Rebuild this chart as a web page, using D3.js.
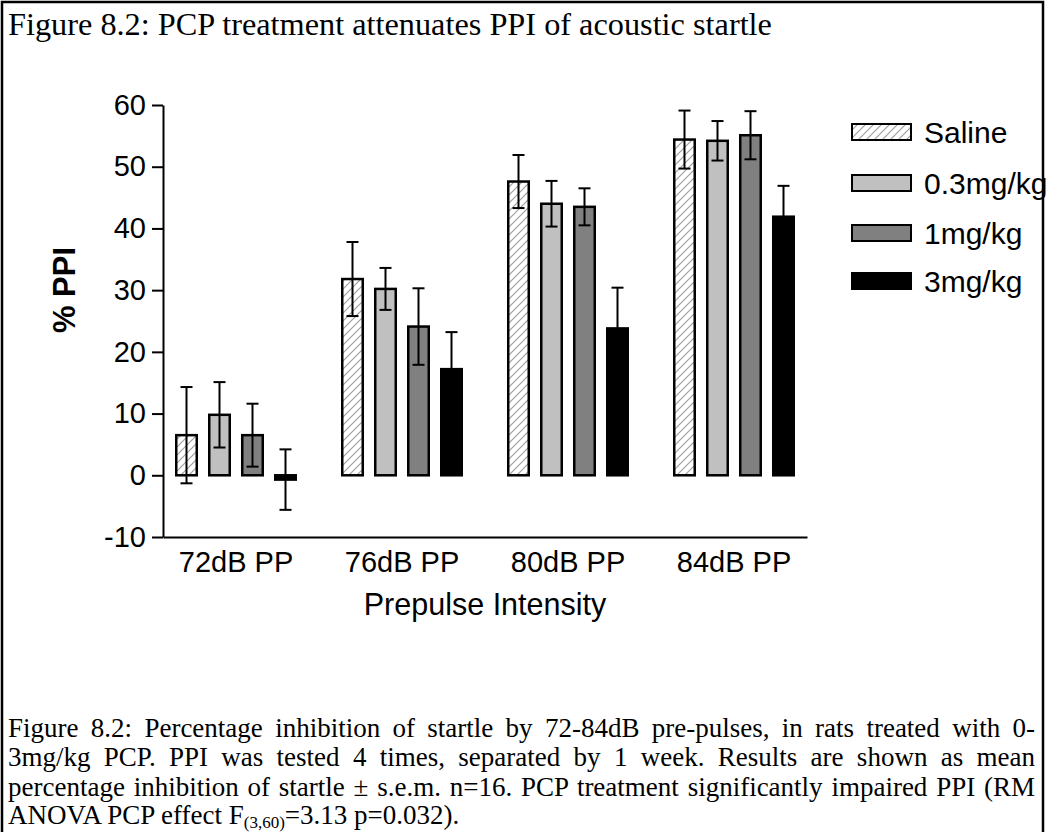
<!DOCTYPE html>
<html><head><meta charset="utf-8">
<script src="https://cdn.jsdelivr.net/npm/d3@7"></script>
<style>
html,body{margin:0;padding:0;background:#fff;}
svg{display:block;}
</style></head>
<body>
<svg id="chart" width="1060" height="832"></svg>
<script>
// ---- data ----
const groups = ["72dB PP", "76dB PP", "80dB PP", "84dB PP"];
const series = ["Saline", "0.3mg/kg", "1mg/kg", "3mg/kg"];
const salineMean = [6.5, 31.8, 47.6, 54.4];
const salineSem  = [7.8, 6.0, 4.3, 4.7];
const low03Mean  = [9.8, 30.2, 44.0, 54.2];
const low03Sem   = [5.3, 3.4, 3.7, 3.2];
const mid1Mean   = [6.5, 24.1, 43.5, 55.1];
const mid1Sem    = [5.1, 6.2, 3.0, 3.9];
const high3Mean  = [-0.7, 17.2, 23.8, 41.9];
const high3Sem   = [4.9, 6.0, 6.6, 5.0];
const yTicks = [-10, 0, 10, 20, 30, 40, 50, 60];
const titleText = "Figure 8.2: PCP treatment attenuates PPI of acoustic startle";
const yLabel = "% PPI";
const xLabel = "Prepulse Intensity";
const captionLines = [
  "Figure 8.2: Percentage inhibition of startle by 72-84dB pre-pulses, in rats treated with 0-",
  "3mg/kg PCP. PPI was tested 4 times, separated by 1 week. Results are shown as mean",
  "percentage inhibition of startle \u00b1 s.e.m. n=16. PCP treatment significantly impaired PPI (RM"
];

const means = [salineMean, low03Mean, mid1Mean, high3Mean];
const sems = [salineSem, low03Sem, mid1Sem, high3Sem];
const fills = ["url(#hatch)", "#c0c0c0", "#808080", "#000000"];

const svg = d3.select("#chart");
const defs = svg.append("defs");
const pat = defs.append("pattern").attr("id", "hatch")
  .attr("patternUnits", "userSpaceOnUse").attr("width", 8).attr("height", 8);
pat.append("rect").attr("width", 8).attr("height", 8).attr("fill", "#fff");
pat.append("path").attr("d", "M0,8 L8,0 M-2,2 L2,-2 M6,10 L10,6")
  .attr("stroke", "#a0a0a0").attr("stroke-width", 1.2);

// frame
svg.append("rect").attr("x", 2).attr("y", 2).attr("width", 1041).attr("height", 860)
  .attr("fill", "none").attr("stroke", "#000").attr("stroke-width", 2.5);

// title
svg.append("text").attr("x", 8).attr("y", 35)
  .attr("font-family", "Liberation Serif, Times New Roman, serif").attr("font-size", 32.3)
  .text(titleText);

// scales
const y = d3.scaleLinear().domain([-10, 60]).range([537, 105]);
const x0 = d3.scaleBand().domain(groups).range([163, 807]).paddingInner(0.2048).paddingOuter(0.0422);
const x1 = d3.scaleBand().domain(series).range([0, x0.bandwidth()]).paddingInner(10/33).paddingOuter(5/33);
const font = "Liberation Sans, Arial, sans-serif";

// y axis
const yAxis = svg.append("g").attr("transform", "translate(163,0)")
  .call(d3.axisLeft(y).tickValues(yTicks).tickFormat(d => String(d))
    .tickSize(11).tickSizeOuter(0).tickPadding(6));
yAxis.select(".domain").attr("stroke", "#000").attr("stroke-width", 2);
yAxis.selectAll(".tick line").attr("stroke", "#000").attr("stroke-width", 2);
yAxis.selectAll(".tick text").attr("font-family", font).attr("font-size", 29).attr("fill", "#000");

// x axis
const xAxis = svg.append("g").attr("transform", "translate(0,537)")
  .call(d3.axisBottom(x0).tickSize(0).tickSizeOuter(0).tickPadding(14));
xAxis.select(".domain").attr("stroke", "#000").attr("stroke-width", 2);
xAxis.selectAll(".tick text").attr("font-family", font).attr("font-size", 29).attr("fill", "#000");

// axis titles
svg.append("text").attr("transform", "translate(75,290) rotate(-90)")
  .attr("text-anchor", "middle").attr("font-family", font).attr("font-weight", "bold")
  .attr("font-size", 31).text(yLabel);
svg.append("text").attr("x", (163 + 807) / 2).attr("y", 615).attr("text-anchor", "middle")
  .attr("font-family", font).attr("font-size", 30.5).text(xLabel);

// bars with error bars
const sw = 2.5;
series.forEach((s, si) => {
  const g = svg.append("g");
  const data = groups.map((grp, gi) => ({grp, v: means[si][gi], e: sems[si][gi]}));
  g.selectAll("rect").data(data).enter().append("rect")
    .attr("x", d => x0(d.grp) + x1(s) + sw / 2)
    .attr("width", x1.bandwidth() - sw)
    .attr("y", d => Math.min(y(d.v), y(0)))
    .attr("height", d => Math.abs(y(d.v) - y(0)))
    .attr("fill", fills[si]).attr("stroke", "#000").attr("stroke-width", sw);
  const cx = d => x0(d.grp) + x1(s) + x1.bandwidth() / 2;
  g.selectAll("line.v").data(data).enter().append("line").attr("class", "v")
    .attr("x1", cx).attr("x2", cx)
    .attr("y1", d => y(d.v + d.e)).attr("y2", d => y(d.v - d.e))
    .attr("stroke", "#000").attr("stroke-width", 2);
  [1, -1].forEach(sign => {
    g.selectAll("line.c" + (sign > 0 ? "u" : "d")).data(data).enter().append("line")
      .attr("class", "c" + (sign > 0 ? "u" : "d"))
      .attr("x1", d => cx(d) - 6).attr("x2", d => cx(d) + 6)
      .attr("y1", d => y(d.v + sign * d.e)).attr("y2", d => y(d.v + sign * d.e))
      .attr("stroke", "#000").attr("stroke-width", 2);
  });
});

// legend
const legTops = [123, 174, 224, 272];
series.forEach((s, si) => {
  const g = svg.append("g").attr("transform", `translate(851,${legTops[si]})`);
  g.append("rect").attr("x", 1).attr("y", 1).attr("width", 59).attr("height", 16)
    .attr("fill", fills[si]).attr("stroke", "#000").attr("stroke-width", si === 3 ? 0 : 2);
  if (si === 3) g.select("rect").attr("x", 0).attr("y", 0).attr("width", 61).attr("height", 18);
  g.append("text").attr("x", 73).attr("y", 9).attr("dy", "0.36em")
    .attr("font-family", font).attr("font-size", 30).text(s);
});

// caption (justified)
const capFont = "Liberation Serif, Times New Roman, serif";
const capX = 8, capW = 1027, capBase = 737, capStep = 29.3, capSize = 27;
captionLines.forEach((line, i) => {
  const t = svg.append("text").attr("x", capX).attr("y", capBase + i * capStep)
    .attr("font-family", capFont).attr("font-size", capSize).attr("xml:space", "preserve").text(line);
  const L = t.node().getComputedTextLength();
  const n = (line.match(/ /g) || []).length;
  if (n > 0) t.attr("word-spacing", (capW - L) / n);
});
const last = svg.append("text").attr("x", capX).attr("y", capBase + 3 * capStep - 1)
  .attr("font-family", capFont).attr("font-size", capSize);
last.append("tspan").text("ANOVA PCP effect F");
last.append("tspan").attr("font-size", 17).attr("dy", 4).text("(3,60)");
last.append("tspan").attr("dy", -4).text("=3.13 p=0.032).");
</script>
</body></html>
